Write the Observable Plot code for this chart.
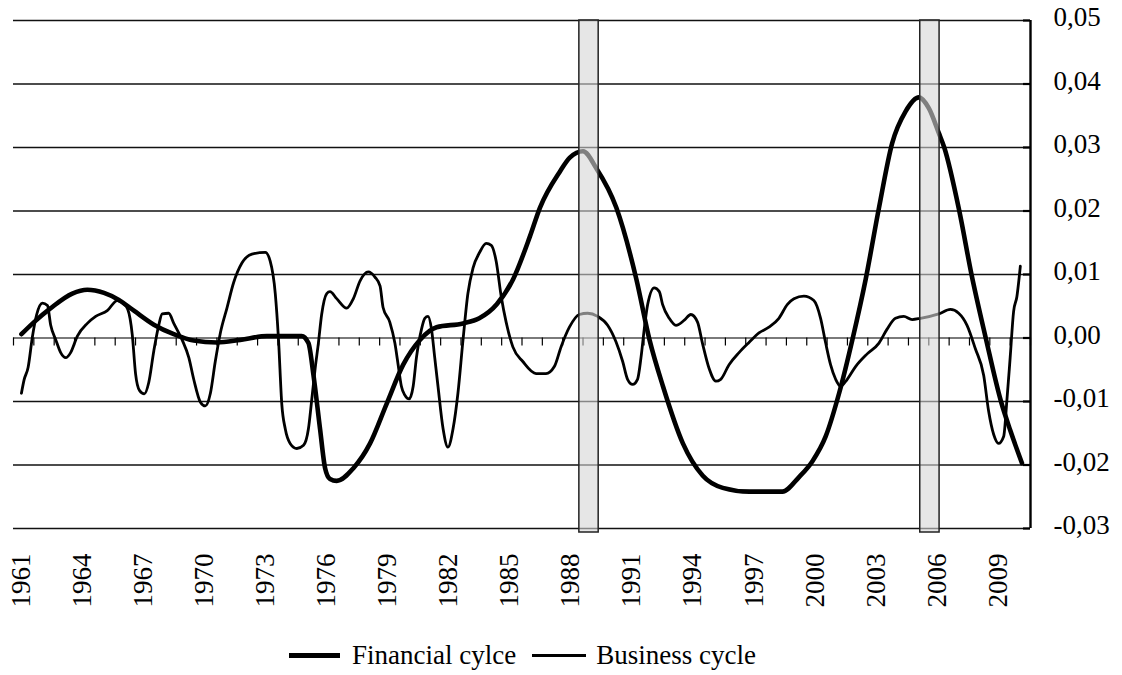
<!DOCTYPE html>
<html>
<head>
<meta charset="utf-8">
<script src="https://cdn.jsdelivr.net/npm/d3@7"></script>
<script src="https://cdn.jsdelivr.net/npm/@observablehq/plot@0.6"></script>
<style>
  html, body { margin: 0; padding: 0; background: #fff; }
  #wrap { position: relative; width: 1122px; height: 675px; font-family: "Liberation Serif", "Times New Roman", serif; color: #000; }
  #legend { position: absolute; left: 289px; top: 635px; height: 40px; display: flex; align-items: center; font-size: 27px; white-space: nowrap; }
  .sw { display: inline-block; background: #000; }
</style>
</head>
<body>
<div id="wrap">
  <div id="chart"></div>
  <div id="legend">
    <span class="sw" style="width:51px;height:5px;margin-right:12px"></span><span>Financial cylce</span>
    <span class="sw" style="width:54px;height:3px;margin-left:16px;margin-right:10px"></span><span>Business cycle</span>
  </div>
</div>
<script>
// Financial cycle (thick line)
const fcYears = [1961.39, 1962.01, 1962.83, 1963.89, 1964.63, 1965.45, 1966.18, 1966.92, 1967.90, 1968.88,
  1969.86, 1971.00, 1972.15, 1973.46, 1974.44, 1975.17, 1975.50, 1975.75, 1976.07, 1976.32,
  1976.56, 1976.89, 1977.71, 1978.53, 1979.34, 1980.16, 1980.98, 1981.80, 1983.10, 1983.90,
  1984.76, 1985.57, 1986.39, 1986.88, 1987.86, 1988.35, 1989.00, 1989.66, 1990.64, 1991.62,
  1992.27, 1992.93, 1993.91, 1994.89, 1995.87, 1997.18, 1998.80, 1999.62, 2000.28, 2000.93,
  2001.59, 2002.24, 2002.90, 2003.55, 2004.20, 2004.86, 2005.51, 2006.00, 2006.49, 2006.76,
  2007.50, 2008.10, 2008.80, 2009.55, 2010.00, 2010.58];
const fcValues = [0.0006, 0.0025, 0.0047, 0.0070, 0.0076, 0.0071, 0.0060, 0.0043, 0.0021, 0.0006,
  -0.0004, -0.0007, -0.0003, 0.0003, 0.0003, 0.0003, -0.0008, -0.0059, -0.0143, -0.0205,
  -0.0222, -0.0225, -0.0205, -0.0166, -0.0104, -0.0042, -0.0003, 0.0017, 0.0023, 0.0031,
  0.0053, 0.0093, 0.0160, 0.0205, 0.0262, 0.0284, 0.0294, 0.0267, 0.0205, 0.0093,
  -0.0003, -0.0076, -0.0166, -0.0217, -0.0236, -0.0242, -0.0242, -0.0219, -0.0194, -0.0155,
  -0.0087, -0.0003, 0.0093, 0.0205, 0.0307, 0.0357, 0.0379, 0.0362, 0.0323, 0.0300,
  0.0200, 0.0100, 0.0000, -0.0100, -0.0145, -0.0197];

// Business cycle (thin line)
const bcYears = [1961.39, 1961.52, 1961.72, 1961.93, 1962.14, 1962.42, 1962.67, 1962.83, 1963.08, 1963.32,
  1963.57, 1963.81, 1964.14, 1964.63, 1965.04, 1965.61, 1966.10, 1966.35, 1966.62, 1966.84,
  1967.00, 1967.20, 1967.43, 1967.65, 1967.90, 1968.14, 1968.31, 1968.63, 1968.88, 1969.29,
  1969.62, 1969.86, 1970.19, 1970.43, 1970.68, 1970.92, 1971.17, 1971.50, 1971.82, 1972.23,
  1972.72, 1973.38, 1973.62, 1973.87, 1974.03, 1974.19, 1974.36, 1974.60, 1974.93, 1975.26,
  1975.50, 1975.66, 1975.83, 1975.99, 1976.15, 1976.40, 1976.56, 1976.89, 1977.38, 1977.71,
  1978.04, 1978.44, 1978.77, 1979.02, 1979.17, 1979.50, 1979.75, 1979.91, 1980.07, 1980.24,
  1980.45, 1980.65, 1980.81, 1981.06, 1981.22, 1981.38, 1981.55, 1981.71, 1981.87, 1982.12,
  1982.36, 1982.61, 1982.85, 1983.10, 1983.34, 1983.59, 1983.92, 1984.24, 1984.49, 1984.73,
  1984.98, 1985.22, 1985.55, 1986.04, 1986.69, 1987.18, 1987.59, 1987.92, 1988.33, 1988.82,
  1989.23, 1989.72, 1990.21, 1990.62, 1990.95, 1991.19, 1991.44, 1991.68, 1991.85, 1992.01,
  1992.18, 1992.50, 1992.75, 1992.91, 1993.24, 1993.57, 1993.98, 1994.30, 1994.63, 1994.87,
  1995.20, 1995.53, 1995.77, 1996.18, 1996.67, 1997.16, 1997.65, 1998.14, 1998.63, 1999.05,
  1999.37, 1999.86, 2000.35, 2000.68, 2000.93, 2001.17, 2001.42, 2001.66, 2001.99, 2002.40,
  2002.97, 2003.55, 2003.95, 2004.36, 2004.77, 2005.18, 2005.59, 2006.49, 2007.06, 2007.47,
  2007.88, 2008.29, 2008.70, 2008.94, 2009.19, 2009.43, 2009.68, 2009.84, 2010.00, 2010.17,
  2010.33, 2010.50];
const bcValues = [-0.0087, -0.0066, -0.0046, 0.0002, 0.0037, 0.0055, 0.0051, 0.0020, -0.0003, -0.0023,
  -0.0031, -0.0023, 0.0003, 0.0023, 0.0034, 0.0043, 0.0059, 0.0056, 0.0045, 0.0005,
  -0.0056, -0.0083, -0.0088, -0.0070, -0.0020, 0.0020, 0.0038, 0.0039, 0.0023, -0.0003,
  -0.0031, -0.0065, -0.0101, -0.0107, -0.0087, -0.0037, 0.0008, 0.0048, 0.0087, 0.0118,
  0.0132, 0.0135, 0.0121, 0.0070, -0.0003, -0.0104, -0.0143, -0.0166, -0.0174, -0.0169,
  -0.0143, -0.0098, -0.0048, -0.0008, 0.0037, 0.0070, 0.0073, 0.0062, 0.0047, 0.0062,
  0.0090, 0.0104, 0.0096, 0.0082, 0.0048, 0.0025, -0.0008, -0.0042, -0.0076, -0.0090,
  -0.0096, -0.0076, -0.0031, 0.0014, 0.0031, 0.0034, 0.0014, -0.0031, -0.0076, -0.0143,
  -0.0172, -0.0143, -0.0087, -0.0003, 0.0070, 0.0110, 0.0135, 0.0149, 0.0146, 0.0121,
  0.0065, 0.0025, -0.0014, -0.0037, -0.0056, -0.0056, -0.0045, -0.0014, 0.0017, 0.0037,
  0.0039, 0.0034, 0.0020, -0.0006, -0.0037, -0.0065, -0.0073, -0.0065, -0.0031, 0.0014,
  0.0053, 0.0079, 0.0073, 0.0053, 0.0031, 0.0020, 0.0028, 0.0037, 0.0025, -0.0008,
  -0.0048, -0.0068, -0.0065, -0.0042, -0.0023, -0.0007, 0.0008, 0.0017, 0.0031, 0.0053,
  0.0062, 0.0066, 0.0059, 0.0031, -0.0008, -0.0042, -0.0065, -0.0076, -0.0065, -0.0045,
  -0.0025, -0.0008, 0.0014, 0.0031, 0.0034, 0.0029, 0.0031, 0.0038, 0.0045, 0.0039,
  0.0020, -0.0017, -0.0059, -0.0115, -0.0152, -0.0166, -0.0155, -0.0098, -0.0031, 0.0042,
  0.0065, 0.0113];

// Shaded periods
const shadeStart = [1988.82, 2005.58];
const shadeEnd = [1989.77, 2006.53];

// Axis ticks
const yTicks = [-0.03, -0.02, -0.01, 0, 0.01, 0.02, 0.03, 0.04, 0.05];
const yearTicks = d3.range(1961, 2012);
const labelYears = [1961, 1964, 1967, 1970, 1973, 1976, 1979, 1982, 1985, 1988, 1991, 1994, 1997, 2000, 2003, 2006, 2009];
const xDomain = [1961, 2011];
const yDomain = [-0.03, 0.05];

const fc = fcYears.map((x, i) => ({x, y: fcValues[i]}));
const bc = bcYears.map((x, i) => ({x, y: bcValues[i]}));
const shades = shadeStart.map((s, i) => ({x1: s, x2: shadeEnd[i]}));
const fmt = v => (v < 0 ? "-" : "") + Math.abs(v).toFixed(2).replace(".", ",");

const chart = Plot.plot({
  width: 1122,
  height: 632,
  marginLeft: 13,
  marginRight: 92,
  marginTop: 20,
  marginBottom: 104,
  x: {domain: xDomain, axis: null},
  y: {domain: yDomain, axis: null},
  style: {fontFamily: "'Liberation Serif', 'Times New Roman', serif", fontSize: "27px", color: "#000", background: "#fff", overflow: "visible"},
  marks: [
    Plot.ruleY(yTicks.filter(v => v !== 0), {stroke: "#111", strokeWidth: 1.5}),
    Plot.ruleY([0], {stroke: "#7a7a7a", strokeWidth: 2}),
    Plot.ruleX(yearTicks, {x: d => d, y1: 0, y2: 0, insetBottom: -8, stroke: "#000", strokeWidth: 1.2}),
    Plot.ruleX([xDomain[1]], {y1: yDomain[0], y2: yDomain[1], stroke: "#000", strokeWidth: 2.4}),
    Plot.ruleY(yTicks, {x1: xDomain[1], x2: xDomain[1], insetLeft: -7, stroke: "#000", strokeWidth: 2.2}),
    Plot.text(yTicks, {frameAnchor: "right", y: d => d, text: fmt, textAnchor: "start", dx: 23, dy: -3, fontSize: 27}),
    Plot.text(labelYears, {x: d => d + 0.4, frameAnchor: "bottom", text: d => String(d), rotate: -90, textAnchor: "end", lineAnchor: "middle", dy: 25, fontSize: 27}),
    Plot.line(bc, {x: "x", y: "y", stroke: "#000", strokeWidth: 2.8, curve: "monotone-x"}),
    Plot.line(fc, {x: "x", y: "y", stroke: "#000", strokeWidth: 4.6, curve: "monotone-x"}),
    Plot.rect(shades, {x1: "x1", x2: "x2", y1: yDomain[0], y2: yDomain[1], insetBottom: -4, fill: "rgb(213,213,213)", fillOpacity: 0.6, stroke: "#222", strokeWidth: 1.5})
  ]
});
document.getElementById("chart").appendChild(chart);
</script>
</body>
</html>
